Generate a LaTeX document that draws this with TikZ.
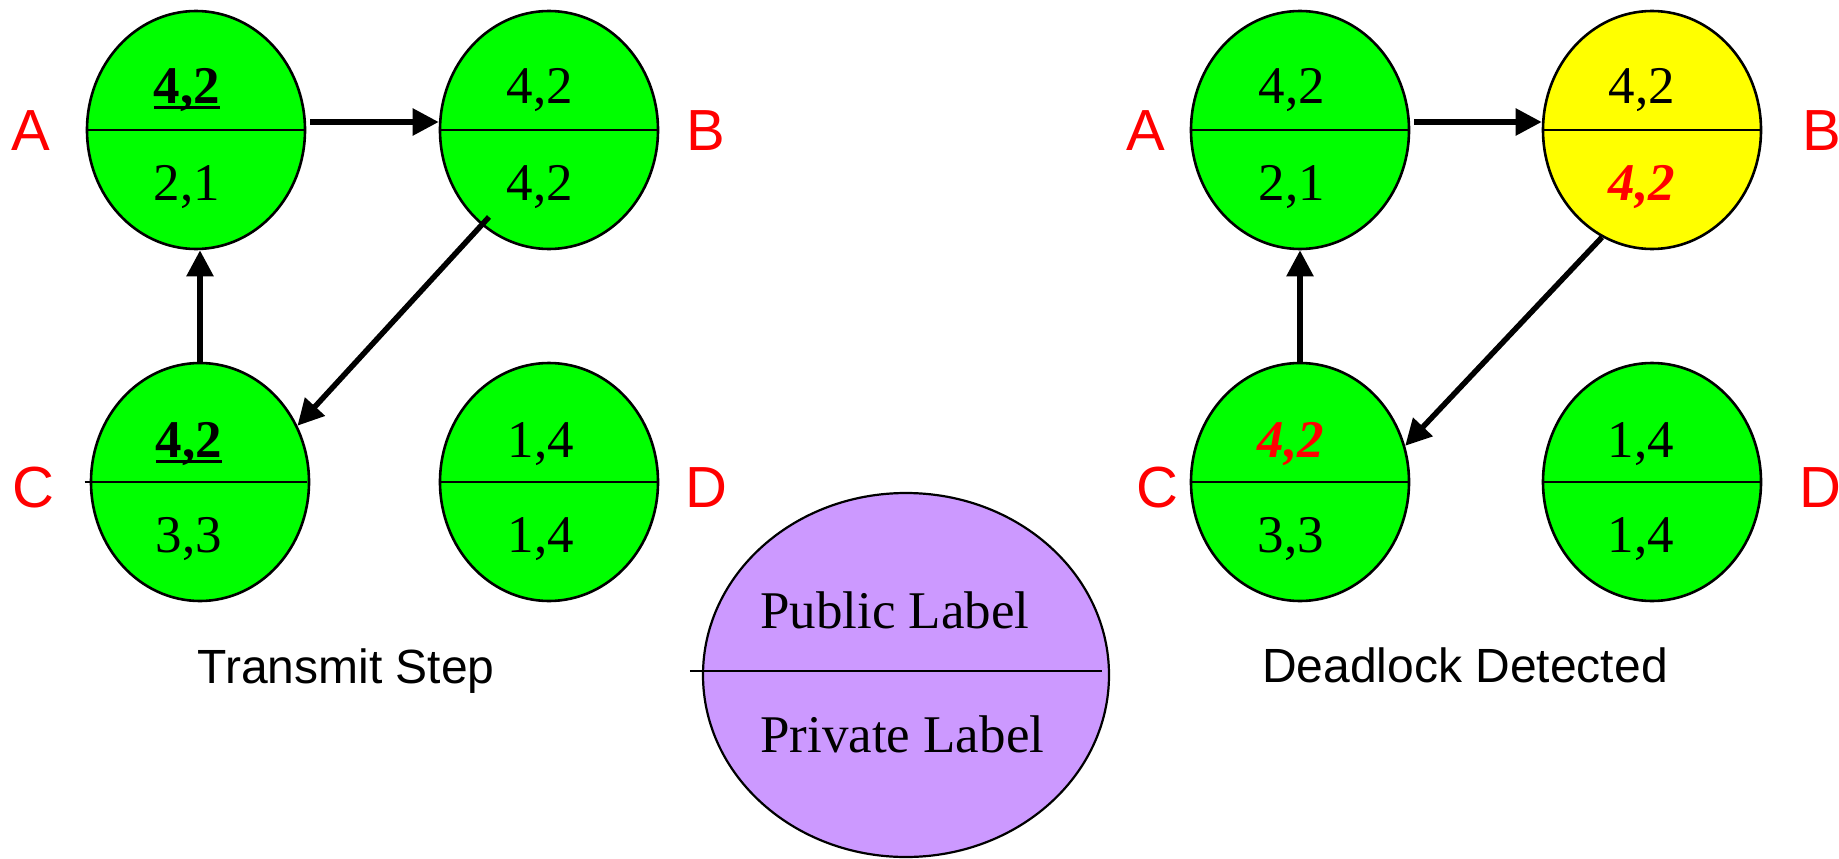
\documentclass[tikz,border=0pt]{standalone}
\usepackage{fontspec}
\setmainfont{Liberation Serif}
\setsansfont{Liberation Sans}
\usetikzlibrary{arrows.meta,calc,shapes.geometric}
\definecolor{nodegreen}{RGB}{0,255,0}
\definecolor{nodeyellow}{RGB}{255,255,0}
\definecolor{keypurple}{RGB}{204,153,255}
\definecolor{lblred}{RGB}{255,0,0}
% underline drawn just below the baseline, crossed by the comma
\newcommand\ulnum[1]{\setbox0\hbox{#1}\rlap{\rule[-6pt]{\wd0}{2.8pt}}\box0}
\begin{document}
\begin{tikzpicture}[x=1pt,y=-1pt,
  ovalnode/.style={ellipse, draw=black, line width=2.6pt, minimum width=218pt,
    minimum height=238pt, inner sep=0pt, fill=nodegreen},
  divline/.style={line width=2.4pt},
  valtext/.style={anchor=base, inner sep=0pt, font=\fontsize{53}{60}\selectfont},
  hottext/.style={valtext, text=lblred, font=\fontsize{53}{60}\selectfont\bfseries\itshape},
  proctag/.style={anchor=base, inner sep=0pt, text=lblred, font=\sffamily\fontsize{58}{64}\selectfont},
  captext/.style={anchor=base, inner sep=0pt, font=\sffamily\fontsize{48}{54}\selectfont},
  flow/.style={line width=5.5pt, -{Triangle[length=26pt,width=26pt]}}
]
\useasboundingbox (0,0) rectangle (1839,859);

% ---------- left panel: transmit step ----------
\node[ovalnode] (A) at (196,130) {};
\node[ovalnode] (B) at (549,130) {};
\node[ovalnode] (C) at (200,482) {};
\node[ovalnode] (D) at (549,482) {};
\draw[divline] (A.west) -- (A.east);
\draw[divline] (B.west) -- (B.east);
\draw[divline] ($(C.west)+(-5,0)$) -- ($(C.east)+(-3,0)$);
\draw[divline] (D.west) -- (D.east);

\node[valtext] (Apub)  at (187,103) {\ulnum{\bfseries 4,2}};
\node[valtext] (Apriv) at (187,200) {2,1};
\node[valtext] (Bpub)  at (540,103) {4,2};
\node[valtext] (Bpriv) at (540,200) {4,2};
\node[valtext] (Cpub)  at (189,457) {\ulnum{\bfseries 4,2}};
\node[valtext] (Cpriv) at (189,552) {3,3};
\node[valtext] (Dpub)  at (541,457) {1,4};
\node[valtext] (Dpriv) at (541,552) {1,4};

\node[proctag] (lA) at (31,150) {A};
\node[proctag] (lB) at (706,150) {B};
\node[proctag] (lC) at (33,507) {C};
\node[proctag] (lD) at (706,507) {D};

\draw[flow] ($(A.east)+(4,-8)$) -- ($(B.west)+(0,-8)$);
\draw[flow] (C.north) -- (C.north |- A.south);
\draw[flow] ($(B.center)+(-60,87)$) -- (C.30);

\node[captext] (capL) at (346,683) {Transmit Step};

% ---------- key ----------
\node[ovalnode, fill=keypurple, line width=2.2pt, minimum width=406pt, minimum height=364pt] (P) at (906,675) {};
\draw[divline] ($(P.west)+(-12,-4)$) -- ($(P.east)+(-8,-4)$);
\node[valtext, anchor=base west] (Ppub)  at (760,628) {Public Label};
\node[valtext, anchor=base west] (Ppriv) at (760,752) {Private Label};

% ---------- right panel: deadlock detected ----------
\node[ovalnode] (A2) at (1300,130) {};
\node[ovalnode, fill=nodeyellow] (B2) at (1652,130) {};
\node[ovalnode] (C2) at (1300,482) {};
\node[ovalnode] (D2) at (1652,482) {};
\draw[divline] (A2.west) -- (A2.east);
\draw[divline] (B2.west) -- (B2.east);
\draw[divline] (C2.west) -- (C2.east);
\draw[divline] (D2.west) -- (D2.east);

\node[valtext] (A2pub)  at (1292,103) {4,2};
\node[valtext] (A2priv) at (1292,200) {2,1};
\node[valtext] (B2pub)  at (1642,103) {4,2};
\node[hottext] (B2priv) at (1642,200) {4,2};
\node[hottext] (C2pub)  at (1291,457) {4,2};
\node[valtext] (C2priv) at (1291,552) {3,3};
\node[valtext] (D2pub)  at (1641,457) {1,4};
\node[valtext] (D2priv) at (1641,552) {1,4};

\node[proctag] (lA2) at (1146,150) {A};
\node[proctag] (lB2) at (1822,150) {B};
\node[proctag] (lC2) at (1157,507) {C};
\node[proctag] (lD2) at (1820,507) {D};

\draw[flow] ($(A2.east)+(4,-8)$) -- ($(B2.west)+(0,-8)$);
\draw[flow] (C2.north) -- (C2.north |- A2.south);
\draw[flow] (B2.245) -- (C2.19);

\node[captext] (capR) at (1465,682) {Deadlock Detected};
\end{tikzpicture}
\end{document}
